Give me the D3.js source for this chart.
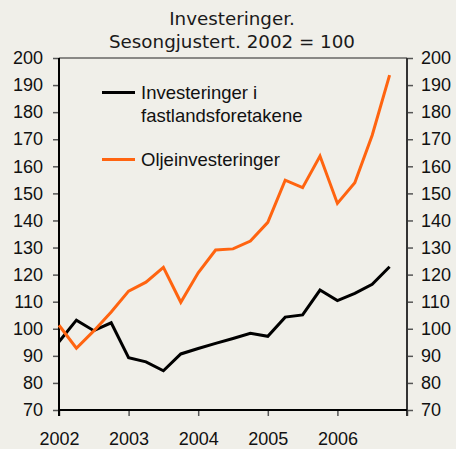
<!DOCTYPE html>
<html>
<head>
<meta charset="utf-8">
<script src="https://cdn.jsdelivr.net/npm/d3@7"></script>
<style>
  html, body { margin: 0; padding: 0; background: #f0efe9; }
  svg { display: block; }
</style>
</head>
<body>
<svg id="chart" width="456" height="449"></svg>
<script>
// ---- Data ----
const quarters = ["2002K1","2002K2","2002K3","2002K4","2003K1","2003K2","2003K3","2003K4",
                  "2004K1","2004K2","2004K3","2004K4","2005K1","2005K2","2005K3","2005K4",
                  "2006K1","2006K2","2006K3","2006K4"];
const fastland = [95.2, 103.2, 99.3, 102.2, 89.3, 87.8, 84.5, 90.7,
                  92.7, 94.6, 96.4, 98.3, 97.2, 104.3, 105.1, 114.3,
                  110.4, 113.1, 116.4, 122.9];
const olje = [101.3, 92.8, 99.2, 106.2, 113.9, 117.2, 122.7, 109.8,
              120.7, 129.1, 129.5, 132.4, 139.3, 154.9, 152.1, 163.8,
              146.3, 153.9, 171.5, 193.7];
const yTicks = [70, 80, 90, 100, 110, 120, 130, 140, 150, 160, 170, 180, 190, 200];
const xTicks = [2002, 2003, 2004, 2005, 2006, 2007];
const xTickLabels = ["2002", "2003", "2004", "2005", "2006", ""];
const seriesNames = ["Investeringer i\nfastlandsforetakene", "Oljeinvesteringer"];
const titleLines = ["Investeringer.", "Sesongjustert. 2002 = 100"];

// ---- Layout ----
const L = 59, R = 407, T = 58, B = 410;
const svg = d3.select("#chart");
const x = d3.scaleLinear().domain([2002, 2007]).range([L, R]);
const y = d3.scaleLinear().domain([70, 200]).range([B, T]);
const qToNum = q => +q.slice(0, 4) + (+q.slice(5) - 1) / 4;

const tickFont = "'Liberation Sans', Arial, sans-serif";

// Title
svg.append("g").selectAll("text").data(titleLines).join("text")
  .attr("x", 232).attr("y", (d, i) => 25 + i * 23)
  .attr("text-anchor", "middle")
  .attr("font-family", "'DejaVu Sans', Verdana, sans-serif")
  .attr("font-size", 18.3).attr("fill", "#1a1a1a")
  .text(d => d);

// Axes
function styleAxis(g) {
  g.select(".domain").remove();
  g.selectAll(".tick line").attr("stroke", "#555").attr("stroke-width", 1.5);
  g.selectAll(".tick text").attr("font-family", tickFont).attr("font-size", 18).attr("fill", "#111");
}
svg.append("g").attr("transform", `translate(${L},0)`)
  .call(d3.axisLeft(y).tickValues(yTicks).tickSize(6).tickPadding(10).tickFormat(d3.format("d")))
  .call(styleAxis);
svg.append("g").attr("transform", `translate(${R},0)`)
  .call(d3.axisRight(y).tickValues(yTicks).tickSize(6).tickPadding(8).tickFormat(d3.format("d")))
  .call(styleAxis);
svg.append("g").attr("transform", `translate(0,${B})`)
  .call(d3.axisBottom(x).tickValues(xTicks).tickSize(6).tickPadding(16).tickFormat((d, i) => xTickLabels[i]))
  .call(styleAxis);

// Frame
svg.append("line").attr("x1", L).attr("x2", R).attr("y1", T).attr("y2", T)
  .attr("stroke", "#222").attr("stroke-width", 1);
svg.append("line").attr("x1", R).attr("x2", R).attr("y1", T).attr("y2", B + 6)
  .attr("stroke", "#333").attr("stroke-width", 2);
svg.append("line").attr("x1", L).attr("x2", L).attr("y1", T).attr("y2", B + 6)
  .attr("stroke", "#000").attr("stroke-width", 2);
svg.append("line").attr("x1", L).attr("x2", R).attr("y1", B).attr("y2", B)
  .attr("stroke", "#000").attr("stroke-width", 2);

// Lines
const line = d3.line().x(d => x(d[0])).y(d => y(d[1]));
const colors = ["#000000", "#ff6410"];
[fastland, olje].forEach((vals, i) => {
  svg.append("path")
    .datum(quarters.map((q, j) => [qToNum(q), vals[j]]))
    .attr("d", line)
    .attr("fill", "none")
    .attr("stroke", colors[i])
    .attr("stroke-width", 3)
    .attr("stroke-linejoin", "miter");
});

// Legend
const legY = [92.5, 159.5];
seriesNames.forEach((name, i) => {
  svg.append("line").attr("x1", 102).attr("x2", 135).attr("y1", legY[i]).attr("y2", legY[i])
    .attr("stroke", colors[i]).attr("stroke-width", 3);
  const t = svg.append("text").attr("x", 141).attr("y", legY[i] + 6.5)
    .attr("font-family", tickFont).attr("font-size", 18.5).attr("fill", "#111");
  name.split("\n").forEach((ln, k) => {
    t.append("tspan").attr("x", 141).attr("dy", k === 0 ? 0 : 22.5).text(ln);
  });
});
</script>
</body>
</html>
